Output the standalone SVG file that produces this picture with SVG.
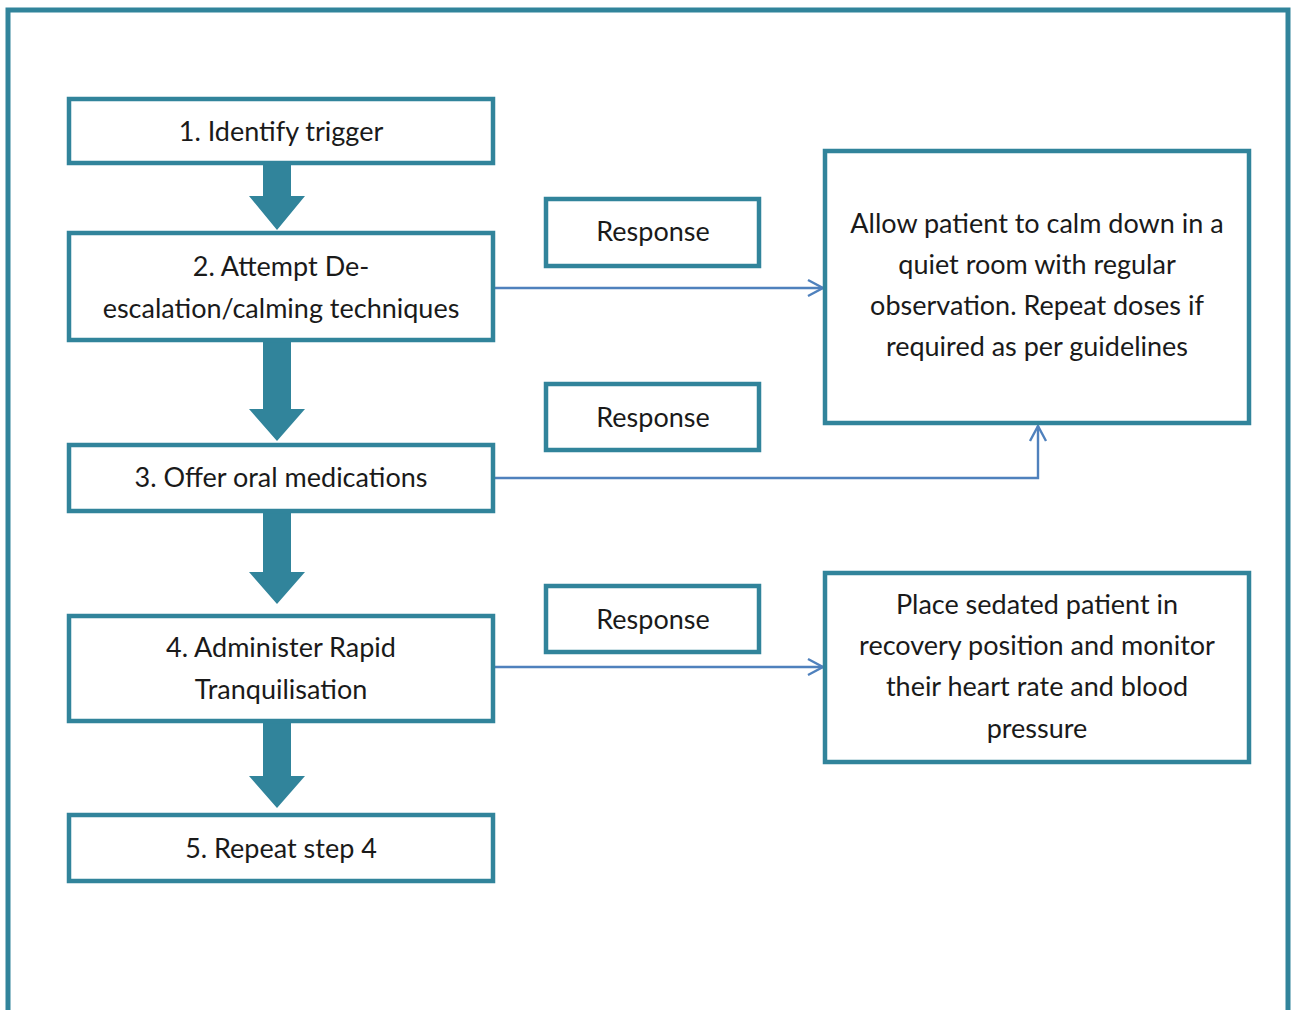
<svg xmlns="http://www.w3.org/2000/svg" width="1293" height="1010" viewBox="0 0 1293 1010">
<defs>
<style>
.box{fill:#fff;stroke:#31849B;stroke-width:4.5}
.t{font-family:Lato,"Open Sans",sans-serif;font-size:27px;fill:#1a1a1a;text-anchor:middle}
.arr{fill:#31849B}
.con{fill:none;stroke:#4F81BD;stroke-width:2.4}
</style>
<marker id="open" markerWidth="20" markerHeight="20" refX="17" refY="10" orient="auto" markerUnits="userSpaceOnUse">
<path d="M2,2 L17,10 L2,18" fill="none" stroke="#4F81BD" stroke-width="2.4"/>
</marker>
</defs>
<rect x="0" y="0" width="1293" height="1010" fill="#fff"/>
<path d="M8,1020 L8,10 L1288,10 L1288,1020" fill="none" stroke="#31849B" stroke-width="5"/>

<g id="connectors">
<line class="con" x1="494" y1="288" x2="823" y2="288" marker-end="url(#open)"/>
<polyline class="con" points="494,478 1038,478 1038,426" marker-end="url(#open)"/>
<line class="con" x1="494" y1="667" x2="823" y2="667" marker-end="url(#open)"/>
<path class="arr" d="M263,163 L291,163 L291,196 L305,196 L277,230 L249,196 L263,196 Z"/>
<path class="arr" d="M263,340 L291,340 L291,409 L305,409 L277,441 L249,409 L263,409 Z"/>
<path class="arr" d="M263,511 L291,511 L291,572 L305,572 L277,604 L249,572 L263,572 Z"/>
<path class="arr" d="M263,721 L291,721 L291,776 L305,776 L277,808 L249,776 L263,776 Z"/>
</g>

<g id="n1"><rect class="box" x="69" y="99" width="424" height="64"/><text class="t" x="281" y="141">1. Identify trigger</text></g>
<g id="n2"><rect class="box" x="69" y="233" width="424" height="107"/><text class="t" x="281" y="276">2. Attempt De-</text><text class="t" x="281" y="318">escalation/calming techniques</text></g>
<g id="n3"><rect class="box" x="69" y="445" width="424" height="66"/><text class="t" x="281" y="487">3. Offer oral medications</text></g>
<g id="n4"><rect class="box" x="69" y="616" width="424" height="105"/><text class="t" x="281" y="657">4. Administer Rapid</text><text class="t" x="281" y="699">Tranquilisation</text></g>
<g id="n5"><rect class="box" x="69" y="815" width="424" height="66"/><text class="t" x="281" y="858">5. Repeat step 4</text></g>

<g id="r1"><rect class="box" x="546" y="199" width="213" height="67"/><text class="t" x="653" y="241">Response</text></g>
<g id="r2"><rect class="box" x="546" y="384" width="213" height="66"/><text class="t" x="653" y="427">Response</text></g>
<g id="r3"><rect class="box" x="546" y="586" width="213" height="66"/><text class="t" x="653" y="629">Response</text></g>

<g id="o1"><rect class="box" x="825" y="151" width="424" height="272"/>
<text class="t" x="1037" y="233">Allow patient to calm down in a</text>
<text class="t" x="1037" y="274">quiet room with regular</text>
<text class="t" x="1037" y="315">observation. Repeat doses if</text>
<text class="t" x="1037" y="356">required as per guidelines</text></g>
<g id="o2"><rect class="box" x="825" y="573" width="424" height="189"/>
<text class="t" x="1037" y="614">Place sedated patient in</text>
<text class="t" x="1037" y="655">recovery position and monitor</text>
<text class="t" x="1037" y="696">their heart rate and blood</text>
<text class="t" x="1037" y="738">pressure</text></g>
</svg>
